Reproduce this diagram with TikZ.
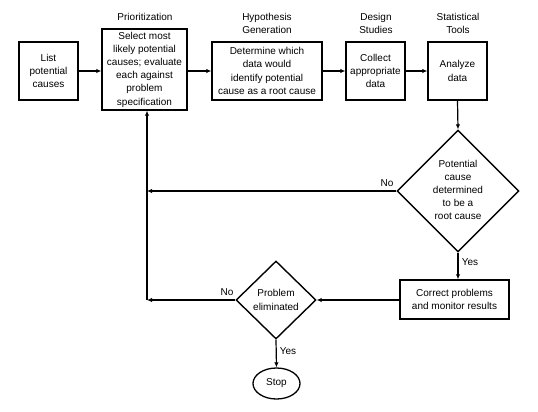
\documentclass[tikz,border=0pt]{standalone}
\usepackage{fontspec}
\setmainfont{Liberation Sans}
\usetikzlibrary{shapes.geometric,arrows.meta}
\begin{document}
\begin{tikzpicture}[x=1pt,y=-1pt,
  every node/.style={font=\fontsize{10}{13.2}\selectfont, align=center, inner sep=0pt},
  box/.style={draw, line width=1.4pt, rectangle},
  diam/.style={draw, line width=1.4pt, diamond},
  oval/.style={draw, line width=1.3pt, ellipse},
  arr/.style={line width=1.2pt, -{Latex[length=5pt,width=4.5pt]}},
  ln/.style={line width=1.2pt}
]
\useasboundingbox (0,0) rectangle (538,412);
\node[box, minimum width=59, minimum height=58] (b1) at (48.5,71) {List\\potential\\causes};
\node[box, minimum width=85, minimum height=81] (b2) at (144.5,69.5) {Select most\\likely potential\\causes; evaluate\\each against\\problem\\specification};
\node[box, minimum width=110, minimum height=58] (b3) at (267,71) {Determine which\\data would\\identify potential\\cause as a root cause};
\node[box, minimum width=59, minimum height=58] (b4) at (375.5,71) {Collect\\appropriate\\data};
\node[box, minimum width=59, minimum height=58] (b5) at (457.5,71) {Analyze\\data};
\node (h2) at (145,17) {Prioritization};
\node (h3) at (267,23.5) {Hypothesis\\Generation};
\node (h4) at (376,23.5) {Design\\Studies};
\node (h5) at (458,23.5) {Statistical\\Tools};
\node[diam, minimum width=122, minimum height=122] (d1) at (458,191) {};
\node (d1t) at (458,190) {Potential\\cause\\determined\\to be a\\root cause};
\node[box, minimum width=109, minimum height=39] (b6) at (454.5,299.5) {Correct problems\\and monitor results};
\node[diam, minimum width=80, minimum height=78] (d2) at (276,300) {};
\node (d2t) at (276,300) {Problem\\eliminated};
\node[oval, minimum width=47, minimum height=31] (stop) at (276.5,383.5) {Stop};
\coordinate (cL1) at (147,191);
\coordinate (cL2) at (147,300);
\node (no1) at (387,183) {No};
\node (no2) at (227,292) {No};
\node (yes1) at (470,262) {Yes};
\node (yes2) at (288,351) {Yes};
\draw[arr] (b1.east) -- (b1.east -| b2.west);
\draw[arr] (b2.east |- b3.west) -- (b3.west);
\draw[arr] (b3.east) -- (b4.west);
\draw[arr] (b4.east) -- (b5.west);
\draw[arr] (b5.south) -- (d1.north);
\draw[arr] (d1.west) -- (cL1);
\draw[arr] (d1.south) -- (d1.south |- b6.north);
\draw[arr] (b6.west |- d2.east) -- (d2.east);
\draw[arr] (d2.west) -- (cL2);
\draw[arr] (cL2) -- (cL2 |- b2.south);
\draw[arr] (d2.south) -- (stop.north);
\end{tikzpicture}
\end{document}
